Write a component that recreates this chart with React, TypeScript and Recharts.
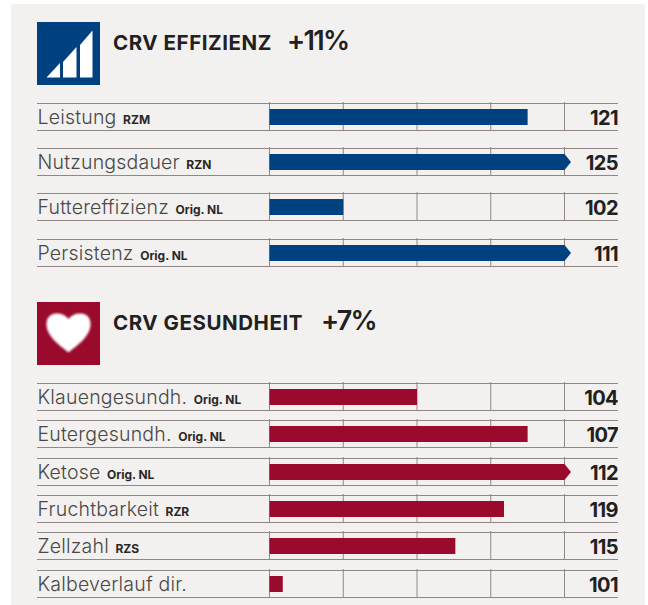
import { Bar, BarChart, CartesianGrid, XAxis, YAxis } from "recharts";

const efficiencyLabels = ["Leistung", "Nutzungsdauer", "Futtereffizienz", "Persistenz"];
const efficiencyTags = ["RZM", "RZN", "Orig. NL", "Orig. NL"];
const efficiencyScores = [121, 125, 102, 111];
// bar length in grid cells; 4 means the bar runs off the scale and gets an arrow tip
const efficiencyBars = [3.5, 4, 1, 4];

const healthLabels = ["Klauengesundh.", "Eutergesundh.", "Ketose", "Fruchtbarkeit", "Zellzahl", "Kalbeverlauf dir."];
const healthTags = ["Orig. NL", "Orig. NL", "Orig. NL", "RZR", "RZS", ""];
const healthScores = [104, 107, 112, 119, 115, 101];
const healthBars = [2, 3.5, 4, 3.18, 2.52, 0.18];

const gridTicks = [0, 1, 2, 3, 4];

const BLUE = "#00427f";
const RED = "#990a2c";
const LINE = "#928784";
const FONT = "Inter, sans-serif";

const efficiencyTops = [103, 148, 193, 239];
const healthTops = [383, 420, 458, 495, 532, 570];

function LabelTick({ y, payload, tags, index }: any) {
  return (
    <text x={0.5} y={y + 7} fontFamily={FONT} fill="#4a4846">
      <tspan fontSize={19.5} fontWeight={300} letterSpacing={0.2}>{payload.value}</tspan>
      <tspan dx={6.5} fontSize={12} fontWeight={700} fill="#2a2826">{tags[index]}</tspan>
    </text>
  );
}

function ScoreTick({ y, payload }: any) {
  return (
    <text x={581} y={y + 8} textAnchor="end" fontFamily={FONT} fontSize={20} fontWeight={700} letterSpacing={-0.6} fill="#222120">
      {payload.value}
    </text>
  );
}

function ArrowBar({ x, y, width, height, fill, payload }: any) {
  const tip = payload.length >= 4 ? 6.5 : 0;
  const points = [
    `${x},${y}`,
    `${x + width},${y}`,
    `${x + width + tip},${y + height / 2}`,
    `${x + width},${y + height}`,
    `${x},${y + height}`,
  ].join(" ");
  return <polygon points={points} fill={fill} />;
}

function Row({ top, label, tag, score, length, color }: { top: number; label: string; tag: string; score: number; length: number; color: string }) {
  const data = [{ label, score, length }];
  return (
    <div style={{ position: "absolute", left: 37, top, width: 581, height: 26, borderTop: `1px solid ${LINE}`, borderBottom: `1px solid ${LINE}` }}>
      <div style={{ position: "absolute", left: 0, top: -2 }}>
        <BarChart width={581} height={29} data={data} layout="vertical" barCategoryGap={0} margin={{ top: 0, right: 0, bottom: 0, left: 0 }}>
          <CartesianGrid horizontal={false} stroke={LINE} strokeWidth={1} />
          <XAxis type="number" hide domain={[0, 4]} ticks={gridTicks} />
          <YAxis yAxisId="left" type="category" dataKey="label" width={232.5} axisLine={false} tickLine={false} interval={0} tick={<LabelTick tags={[tag]} />} />
          <YAxis yAxisId="score" orientation="right" type="category" dataKey="score" width={53.5} axisLine={false} tickLine={false} interval={0} tick={<ScoreTick />} />
          <Bar yAxisId="left" dataKey="length" fill={color} barSize={16} shape={<ArrowBar />} isAnimationActive={false} />
        </BarChart>
      </div>
    </div>
  );
}

function Heading({ top, title, gain, gainLeft }: { top: number; title: string; gain: string; gainLeft: number }) {
  return (
    <>
      <div style={{ position: "absolute", left: 113, top, fontFamily: FONT, fontWeight: 700, fontSize: 20.5, letterSpacing: 0.55, color: "#222120", whiteSpace: "nowrap" }}>{title}</div>
      <div style={{ position: "absolute", left: gainLeft, top: top - 6, fontFamily: FONT, fontWeight: 600, fontSize: 27, letterSpacing: -1.7, color: "#222120", whiteSpace: "nowrap" }}>{gain}</div>
    </>
  );
}

export default function App() {
  return (
    <div style={{ position: "absolute", left: 0, top: 0, width: 648, height: 605, background: "#fff", overflow: "hidden" }}>
      <div style={{ position: "absolute", left: 11, top: 4, width: 634, height: 601, background: "#f3f1f0" }} />

      <svg style={{ position: "absolute", left: 37, top: 22 }} width={63} height={63}>
        <rect width={63} height={63} fill={BLUE} />
        <g fill="#fff" style={{ filter: "blur(0.5px)" }}>
          <polygon points="9.5,55.5 23,55.5 23,41" />
          <polygon points="26,55.5 39.5,55.5 39.5,25 26,40" />
          <polygon points="43,55.5 55.5,55.5 55.5,8.5 43,23" />
        </g>
      </svg>
      <Heading top={30} title="CRV EFFIZIENZ" gain="+11%" gainLeft={287} />
      {efficiencyLabels.map((label, i) => (
        <Row key={label} top={efficiencyTops[i]} label={label} tag={efficiencyTags[i]} score={efficiencyScores[i]} length={efficiencyBars[i]} color={BLUE} />
      ))}

      <svg style={{ position: "absolute", left: 37, top: 302 }} width={63} height={63}>
        <rect width={63} height={63} fill={RED} />
        <path
          d="M31.5 50.5 C24 44 9.5 35 9.5 22 C9.5 14 15 11.5 20 11.5 C25 11.5 29 13.5 31.5 17 C34 13.5 38 11.5 43 11.5 C48 11.5 53.5 14 53.5 22 C53.5 35 39 44 31.5 50.5 Z"
          fill="#fff"
          style={{ filter: "blur(1px)" }}
        />
      </svg>
      <Heading top={310} title="CRV GESUNDHEIT" gain="+7%" gainLeft={321} />
      {healthLabels.map((label, i) => (
        <Row key={label} top={healthTops[i]} label={label} tag={healthTags[i]} score={healthScores[i]} length={healthBars[i]} color={RED} />
      ))}
    </div>
  );
}
